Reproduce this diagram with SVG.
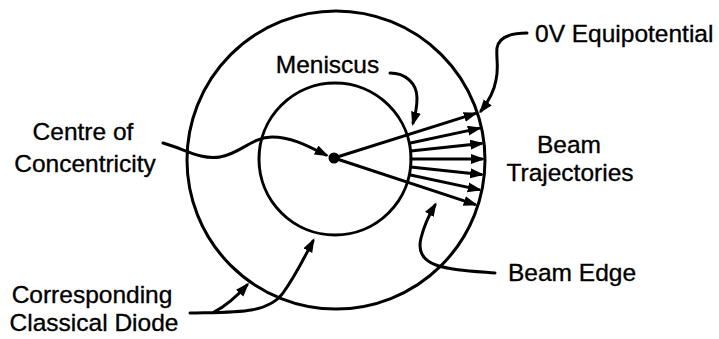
<svg xmlns="http://www.w3.org/2000/svg" width="719" height="339" viewBox="0 0 719 339">
<style>
.ln{fill:none;stroke:#000;stroke-width:3;stroke-linecap:round}
.lb{font-family:"Liberation Sans",Arial,sans-serif;font-size:24.5px;fill:#000;stroke:#000;stroke-width:0.35}
.m{text-anchor:middle}
</style>
<defs>
<marker id="ah" markerUnits="userSpaceOnUse" markerWidth="16" markerHeight="12" refX="11" refY="5" orient="auto">
<path d="M0,0 L14,5 L0,10 z" fill="#000"/>
</marker>
</defs>
<rect width="719" height="339" fill="#fff"/>
<g id="outer-circle"><circle cx="336" cy="160" r="149" class="ln"/></g>
<g id="inner-circle"><circle cx="335" cy="159" r="76" class="ln"/></g>
<g id="centre-dot"><circle cx="334" cy="158" r="5.5" fill="#000"/></g>
<g id="beam-rays">
<line x1="334" y1="158" x2="474.8" y2="113.6" class="ln" marker-end="url(#ah)"/>
<line x1="409.3" y1="143.2" x2="478.8" y2="128.4" class="ln" marker-end="url(#ah)"/>
<line x1="410.6" y1="151.1" x2="481.2" y2="143.6" class="ln" marker-end="url(#ah)"/>
<line x1="411" y1="159" x2="482" y2="159" class="ln" marker-end="url(#ah)"/>
<line x1="410.6" y1="166.9" x2="481.2" y2="174.4" class="ln" marker-end="url(#ah)"/>
<line x1="409.3" y1="174.8" x2="478.8" y2="189.6" class="ln" marker-end="url(#ah)"/>
<line x1="334" y1="158" x2="474.8" y2="204.4" class="ln" marker-end="url(#ah)"/>
</g>
<g id="connectors">
<path d="M527,33 C512,33 499,36 497,48 C496,58 499,68 496,80 C494,92 488,102 481,111" class="ln" marker-end="url(#ah)"/>
<path d="M390,73 C405,73 417,83 417,98 C417,108 415,116 413,123" class="ln" marker-end="url(#ah)"/>
<path d="M163,143 C185,149 200,160 220,157 C240,154 252,137 272,137 C292,137 308,146 326,155" class="ln" marker-end="url(#ah)"/>
<path d="M190,313 C235,312 268,314 283,293 C296,275 305,256 313,241" class="ln" marker-end="url(#ah)"/>
<path d="M214,312 C228,305 238,295 247,285" class="ln" marker-end="url(#ah)"/>
<path d="M495,273 C470,271 450,270 436,265 C422,260 418,250 421,238 C424,226 429,215 435,205" class="ln" marker-end="url(#ah)"/>
</g>
<g id="label-meniscus"><text x="327.5" y="73" class="lb m">Meniscus</text></g>
<g id="label-centre"><text x="83" y="140" class="lb m">Centre of</text><text x="85" y="172" class="lb m">Concentricity</text></g>
<g id="label-equipotential"><text x="535" y="42" class="lb">0V Equipotential</text></g>
<g id="label-trajectories"><text x="569" y="153" class="lb m">Beam</text><text x="570" y="181" class="lb m">Trajectories</text></g>
<g id="label-edge"><text x="508" y="281" class="lb">Beam Edge</text></g>
<g id="label-diode"><text x="92" y="303" class="lb m">Corresponding</text><text x="94" y="331" class="lb m">Classical Diode</text></g>
</svg>
